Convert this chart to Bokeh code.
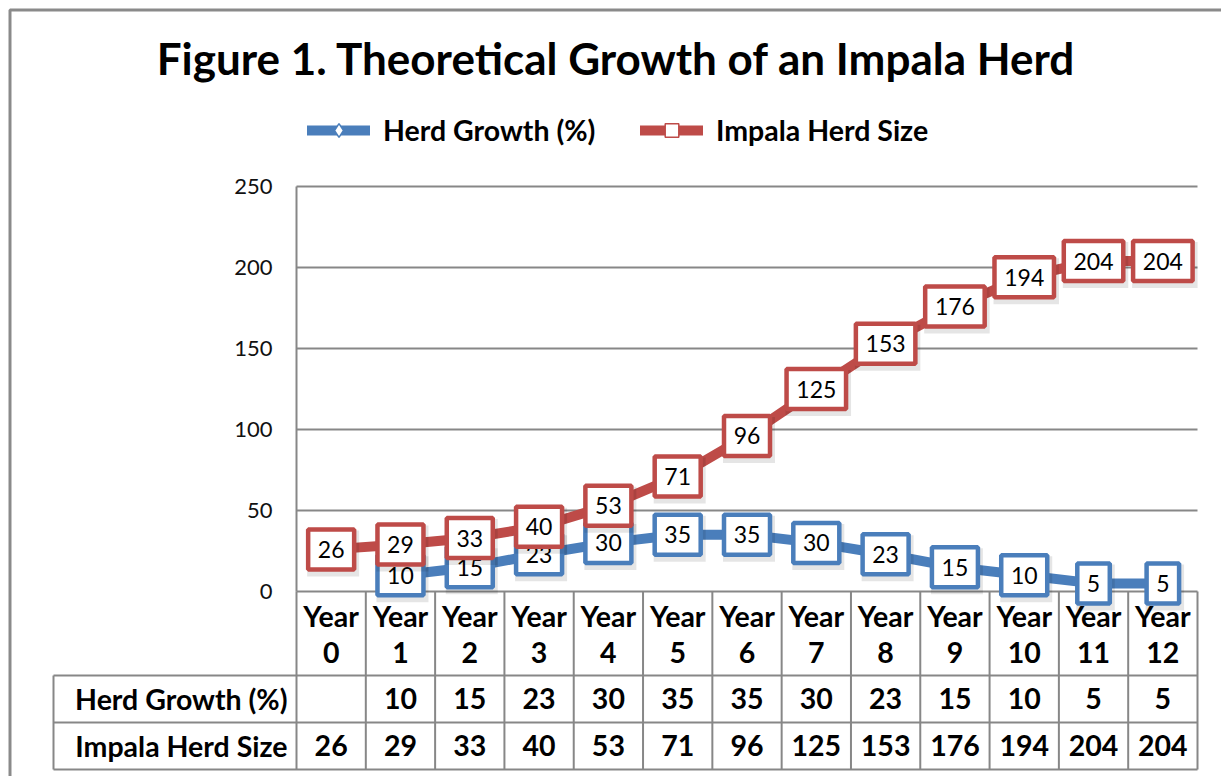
import numpy as np
from bokeh.plotting import figure
from bokeh.models import Range1d, Legend, LegendItem
from bokeh.core.properties import value
from bokeh.embed import file_html
from bokeh.resources import INLINE

# ---------------- data ----------------
title = "Figure 1. Theoretical Growth of an Impala Herd"
categories = ["Year 0", "Year 1", "Year 2", "Year 3", "Year 4", "Year 5", "Year 6",
              "Year 7", "Year 8", "Year 9", "Year 10", "Year 11", "Year 12"]
series_names = ["Herd Growth (%)", "Impala Herd Size"]
herd_growth = [None, 10, 15, 23, 30, 35, 35, 30, 23, 15, 10, 5, 5]
herd_size = [26, 29, 33, 40, 53, 71, 96, 125, 153, 176, 194, 204, 204]
y_ticks = [0, 50, 100, 150, 200, 250]

# ---------------- layout ----------------
W, H = 1221, 776
PLOT_L, PLOT_R = 296, 1197      # canvas px of plot area left/right
Y0 = 591                        # canvas px of value 0
PXY = 1.62                      # px per y unit
n = len(categories)
PXX = (PLOT_R - PLOT_L) / n


def rx(cx):
    return (cx - PLOT_L) / PXX


def ry(cy):
    return (Y0 - cy) / PXY


BLUE = "#4A7EBB"
RED = "#BE4B48"
GRID = "#878787"
FONT = "Lato"

p = figure(width=W, height=H,
           x_range=Range1d(-PLOT_L / PXX, (W - PLOT_L) / PXX),
           y_range=Range1d(-(H - Y0) / PXY, Y0 / PXY),
           output_backend="svg", toolbar_location=None,
           x_axis_type=None, y_axis_type=None, min_border=0,
           outline_line_color=None, background_fill_color="white",
           border_fill_color="white")

xs = np.arange(n) + 0.5
growth = np.array([np.nan if v is None else v for v in herd_growth], dtype=float)
size = np.array(herd_size, dtype=float)

# outer border (left & top visible)
x_end = (W - PLOT_L) / PXX
y_start = -(H - Y0) / PXY
p.line(x=[rx(9.5), rx(9.5), x_end + 1], y=[y_start - 1, ry(9.5), ry(9.5)],
       line_color="#8a8a8a", line_width=3)

# gridlines
p.segment(x0=0, x1=n, y0=y_ticks, y1=y_ticks, line_color=GRID, line_width=2)
# y tick labels
p.text(x=0, y=y_ticks, text=[str(t) for t in y_ticks], x_offset=-24,
       text_align="right", text_baseline="middle", text_font=value(FONT),
       text_font_size="22px", text_color="#111111")

# data table grid
tab_bottom = ry(769)
vx = list(range(n + 1))
p.segment(x0=vx, x1=vx, y0=0, y1=tab_bottom, line_color=GRID, line_width=2)
p.segment(x0=0, x1=0, y0=0, y1=y_ticks[-1], line_color=GRID, line_width=2)
p.segment(x0=rx(53), x1=rx(53), y0=ry(675), y1=tab_bottom, line_color=GRID, line_width=2)
hy = [ry(675), ry(722), tab_bottom]
p.segment(x0=rx(53), x1=n, y0=hy, y1=hy, line_color=GRID, line_width=2)

# table texts
head1 = [c.split(" ")[0] for c in categories]
head2 = [c.split(" ")[1] for c in categories]
tstyle = dict(text_align="center", text_baseline="middle", text_font=value(FONT),
              text_font_style="bold", text_font_size="28.5px", text_color="black")
p.text(x=xs, y=ry(615), text=head1, **tstyle)
p.text(x=xs, y=ry(652), text=head2, **tstyle)
p.text(x=xs, y=ry(698), text=["" if v is None else str(v) for v in herd_growth], **tstyle)
p.text(x=xs, y=ry(745), text=[str(v) for v in herd_size], **tstyle)
rstyle = dict(tstyle)
rstyle["text_align"] = "right"
p.text(x=rx(287), y=[ry(698), ry(745)], text=series_names, **rstyle)

# series lines
bl = p.line(xs, growth, line_color=BLUE, line_width=10, line_join="round", line_cap="round")
bm = p.scatter(xs, growth, marker="diamond", size=16, fill_color="white",
               line_color=BLUE, line_width=1.5)
rl = p.line(xs, size, line_color=RED, line_width=10, line_join="round", line_cap="round")
rm = p.scatter(xs, size, marker="square", size=12, fill_color="white",
               line_color=RED, line_width=1.5)


def labels(vals, color):
    mask = ~np.isnan(vals)
    vx_ = xs[mask]
    vy_ = vals[mask]
    txt = [str(int(v)) for v in vy_]
    w = np.array([13.5 * len(t) + 19 for t in txt], dtype=float)
    p.rect(x=vx_ + 2 / PXX, y=vy_ - 4 / PXY, width=w + 6, height=46,
           width_units="screen", height_units="screen",
           fill_color="black", fill_alpha=0.10, line_color=None)
    p.rect(x=vx_, y=vy_, width=w, height=40, width_units="screen",
           height_units="screen", fill_color="white", line_color=color, line_width=4.5)
    p.text(x=vx_, y=vy_, text=txt, text_align="center", text_baseline="middle",
           text_font=value(FONT), text_font_size="23px", text_color="black")


labels(growth, BLUE)
labels(size, RED)

# title
p.text(x=rx(616), y=ry(57), text=[title], text_align="center", text_baseline="middle",
       text_font=value(FONT), text_font_style="bold", text_font_size="44px",
       text_color="black")

# legends
lstyle = dict(orientation="horizontal", glyph_width=63, glyph_height=34,
              padding=0, margin=0, border_line_color=None, background_fill_alpha=0,
              label_text_font=FONT, label_text_font_style="bold",
              label_text_font_size="28.5px", label_text_color="black",
              label_standoff=13)
leg1 = Legend(items=[LegendItem(label=series_names[0], renderers=[bl, bm])],
              location=(307, H - 130 - 17), **lstyle)
leg2 = Legend(items=[LegendItem(label=series_names[1], renderers=[rl, rm])],
              location=(640, H - 130 - 17), **lstyle)
p.add_layout(leg1)
p.add_layout(leg2)

open("out.html", "w").write(file_html(p, INLINE))
